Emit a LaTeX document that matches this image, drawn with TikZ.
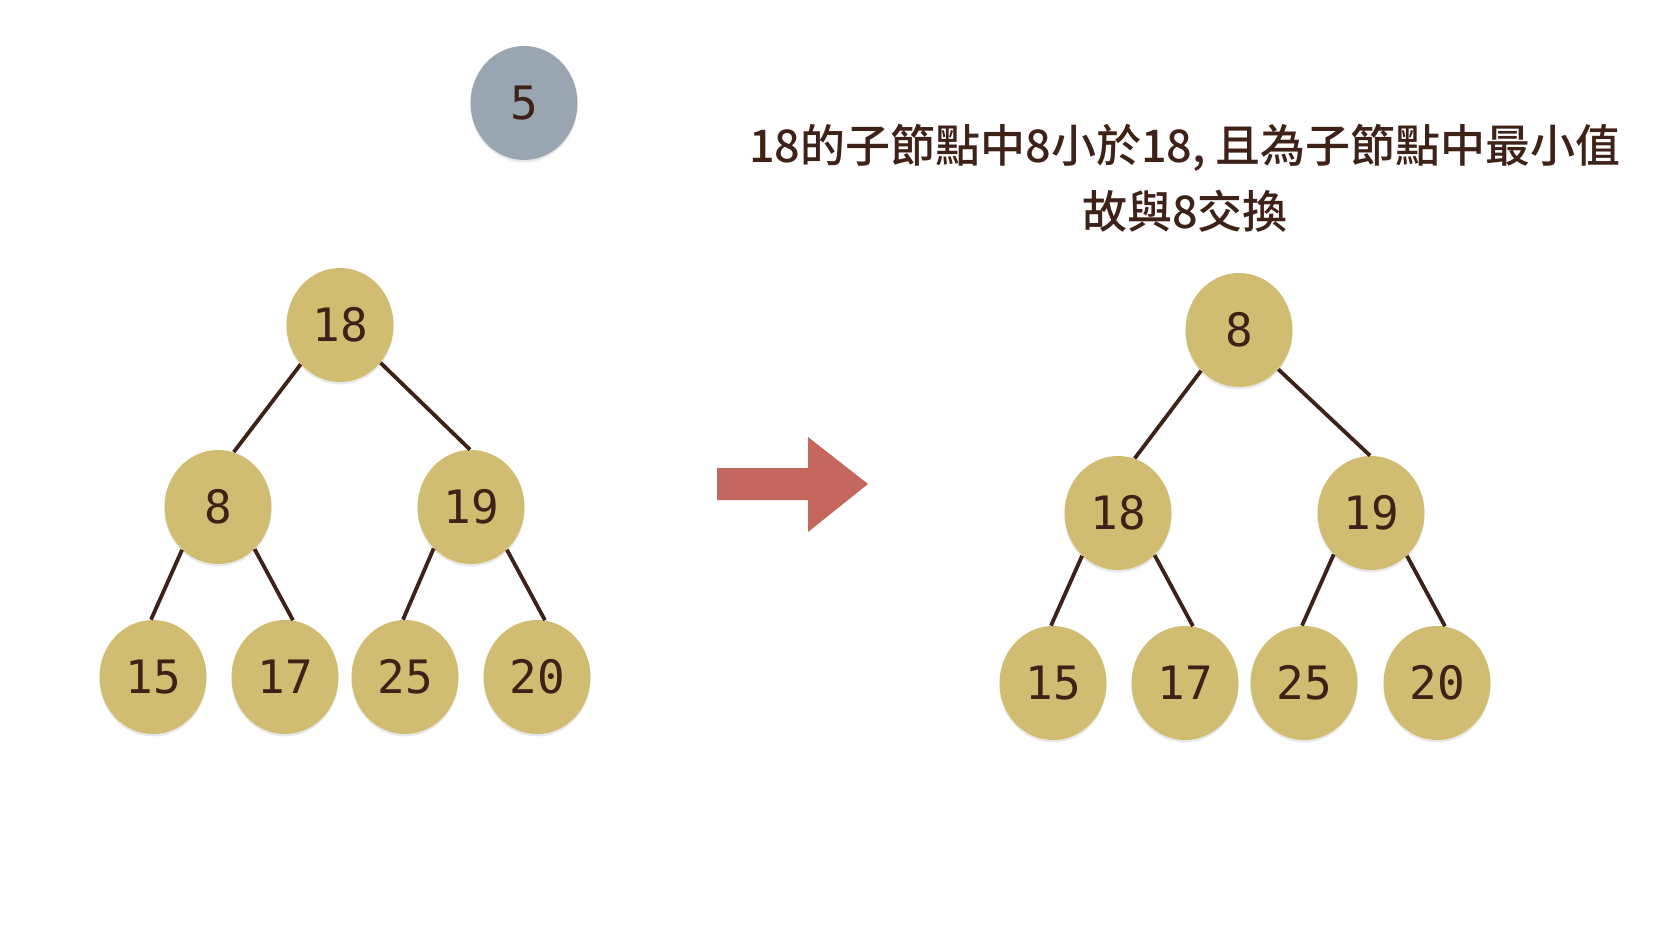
\documentclass[tikz,border=0pt]{standalone}
\usepackage{fontspec}
\setmonofont{DejaVu Sans Mono}
\newfontfamily\cjk{Noto Sans CJK TC Medium}
\usepackage{tikz}
\usetikzlibrary{shapes.geometric,shadows}
\definecolor{heapgold}{RGB}{209,189,114}
\definecolor{heapgrey}{RGB}{153,165,177}
\definecolor{heapred}{RGB}{196,103,95}
\definecolor{heapink}{RGB}{62,33,23}
\tikzset{
	heapnode/.style={ellipse,fill=heapgold,minimum width=53.5pt,minimum height=57pt,inner sep=0pt,
		text=heapink,font=\ttfamily\fontsize{23}{23}\selectfont,
		drop shadow={opacity=0.18,shadow xshift=0pt,shadow yshift=-1.2pt}},
	waitnode/.style={heapnode,fill=heapgrey},
	heapedge/.style={draw=heapink,line width=1.9pt}
}

\begin{document}
\begin{tikzpicture}[x=0.5pt,y=-0.5pt]
	\useasboundingbox[fill=white] (0,0) rectangle (1680,930);
	% waiting value
	\node[waitnode] (w5) at (524,103) {5};
	% left heap
	\node[heapnode] (a18) at (340,325) {18};
	\node[heapnode] (a8) at (218,507) {8};
	\node[heapnode] (a19) at (471,507) {19};
	\node[heapnode] (a15) at (153,677) {15};
	\node[heapnode] (a17) at (285,677) {17};
	\node[heapnode] (a25) at (405,677) {25};
	\node[heapnode] (a20) at (537,677) {20};
	\draw[heapedge] (a18.-135) -- (a8.74);
	\draw[heapedge] (a18.-43) -- (a19.91);
	\draw[heapedge] (a8.-130) -- (a15.92);
	\draw[heapedge] (a8.-49) -- (a17.82);
	\draw[heapedge] (a19.-132) -- (a25.92);
	\draw[heapedge] (a19.-50) -- (a20.82);
	% arrow
	\fill[heapred] (717,468) -- (808,468) -- (808,437) -- (868,484) -- (808,532) -- (808,500) -- (717,500) -- cycle;
	% right heap
	\node[heapnode] (b8) at (1239,330) {8};
	\node[heapnode] (b18) at (1118,513) {18};
	\node[heapnode] (b19) at (1371,513) {19};
	\node[heapnode] (b15) at (1053,683) {15};
	\node[heapnode] (b17) at (1185,683) {17};
	\node[heapnode] (b25) at (1304,683) {25};
	\node[heapnode] (b20) at (1437,683) {20};
	\draw[heapedge] (b8.-133) -- (b18.73);
	\draw[heapedge] (b8.-45) -- (b19.91);
	\draw[heapedge] (b18.-130) -- (b15.92);
	\draw[heapedge] (b18.-49) -- (b17.82);
	\draw[heapedge] (b19.-132) -- (b25.92);
	\draw[heapedge] (b19.-50) -- (b20.82);
	% note
	\node[text=heapink,align=center,font=\cjk\fontsize{22.5}{33}\selectfont] (note) at (1185,178)
		{18的子節點中8小於18, 且為子節點中最小值\\故與8交換};
\end{tikzpicture}
\end{document}
